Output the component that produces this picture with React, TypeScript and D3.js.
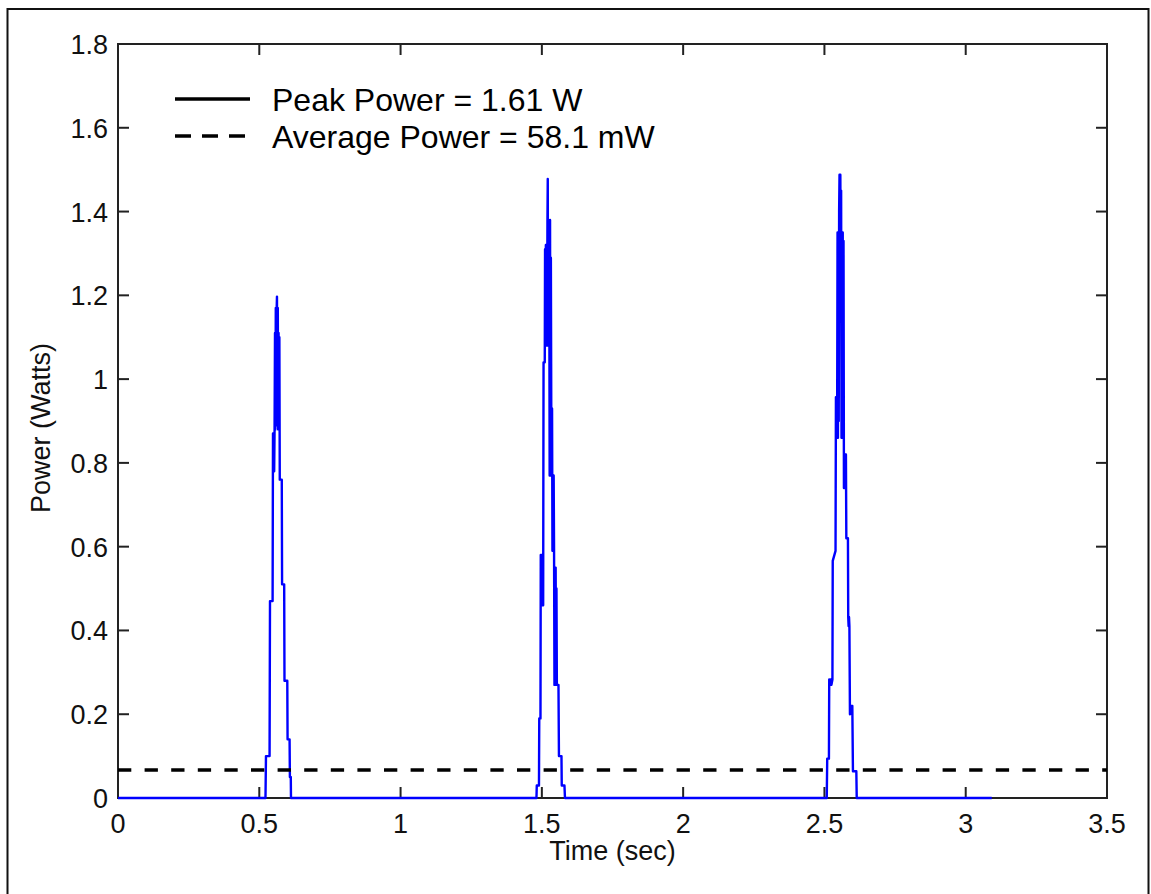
import React from "react";
import * as d3 from "d3";

// ---- data ----
const xTicks = [0, 0.5, 1, 1.5, 2, 2.5, 3, 3.5];
const yTicks = [0, 0.2, 0.4, 0.6, 0.8, 1, 1.2, 1.4, 1.6, 1.8];

const signalStart: [number, number][] = [[0, 0]];

const peak1: [number, number][] = [
  [0.5219, 0], [0.5237, 0.1], [0.5364, 0.1], [0.5379, 0.47], [0.5471, 0.47],
  [0.5485, 0.87], [0.5499, 0.78], [0.5513, 0.87], [0.5527, 0.78], [0.5541, 0.88],
  [0.5556, 1.11], [0.557, 0.88], [0.5584, 1.17], [0.5598, 0.89], [0.5612, 1.16],
  [0.5626, 1.197], [0.5641, 0.89], [0.5655, 1.17], [0.5669, 0.88], [0.5683, 1.11],
  [0.5697, 0.88], [0.5711, 1.1], [0.5725, 0.76], [0.5796, 0.76], [0.5807, 0.51],
  [0.5881, 0.51], [0.5892, 0.28], [0.5991, 0.28], [0.6001, 0.14], [0.6072, 0.14],
  [0.6083, 0.05], [0.6115, 0.05], [0.6122, 0],
];

const peak2: [number, number][] = [
  [1.4809, 0], [1.482, 0.03], [1.4898, 0.03], [1.4908, 0.19], [1.4951, 0.19],
  [1.4961, 0.58], [1.4979, 0.46], [1.4997, 0.58], [1.5014, 0.46], [1.5032, 0.58],
  [1.5046, 0.46], [1.506, 1.04], [1.5103, 1.04], [1.5113, 1.31], [1.5127, 1.08],
  [1.5142, 1.32], [1.5156, 1.08], [1.517, 1.31], [1.5184, 1.08], [1.5198, 1.38],
  [1.5209, 1.478], [1.522, 1.08], [1.5234, 1.38], [1.5248, 1.08], [1.5262, 1.29],
  [1.5276, 0.77], [1.529, 1.38], [1.5304, 0.77], [1.5319, 1.29], [1.5333, 0.93],
  [1.5347, 0.77], [1.5361, 0.93], [1.5375, 0.59], [1.5389, 0.77], [1.5403, 0.59],
  [1.5418, 0.77], [1.5432, 0.59], [1.5446, 0.27], [1.546, 0.55], [1.5474, 0.27],
  [1.5488, 0.55], [1.5503, 0.27], [1.5517, 0.5], [1.5531, 0.27], [1.5588, 0.27],
  [1.5605, 0.1], [1.5694, 0.1], [1.5704, 0.03], [1.58, 0.03], [1.5818, 0],
];

const peak3: [number, number][] = [
  [2.5082, 0], [2.5099, 0.094], [2.5159, 0.094], [2.517, 0.283], [2.5213, 0.27],
  [2.523, 0.283], [2.5248, 0.27], [2.5283, 0.283], [2.5294, 0.566], [2.5393, 0.59],
  [2.5407, 0.957], [2.5421, 0.86], [2.5435, 0.957], [2.5449, 0.86], [2.5464, 1.35],
  [2.5478, 0.86], [2.5492, 1.35], [2.5506, 0.9], [2.552, 1.4], [2.5534, 1.488],
  [2.5549, 1.3], [2.5563, 1.488], [2.5577, 1.25], [2.5591, 1.45], [2.5605, 0.86],
  [2.5619, 1.35], [2.5633, 0.86], [2.5648, 1.35], [2.5662, 0.86], [2.5676, 1.33],
  [2.569, 0.74], [2.5704, 0.82], [2.5718, 0.74], [2.5732, 0.82], [2.5747, 0.74],
  [2.5761, 0.82], [2.5775, 0.62], [2.5832, 0.62], [2.5842, 0.432], [2.5856, 0.41],
  [2.587, 0.432], [2.5884, 0.41], [2.5903, 0.2], [2.5959, 0.22], [2.5973, 0.2],
  [2.5987, 0.22], [2.6009, 0.064], [2.6129, 0.064], [2.6143, 0],
];

const signalEnd: [number, number][] = [[3.092, 0]];

const averageLineLevel = 0.067;
const averageLineSpan = [0, 3.5];

const legendLabels = ["Peak Power = 1.61 W", "Average Power = 58.1 mW"];
const xLabel = "Time (sec)";
const yLabel = "Power (Watts)";

// ---- chart ----
const W = 1151;
const H = 894;
const FONT = "Arial, 'Liberation Sans', Helvetica, sans-serif";

export default function App() {
  const x = d3.scaleLinear().domain([0, 3.5]).range([118, 1107]);
  const y = d3.scaleLinear().domain([0, 1.8]).range([798, 44]);
  const fmt = d3.format("~g");

  const series = [...signalStart, ...peak1, ...peak2, ...peak3, ...signalEnd];
  const line = d3
    .line<[number, number]>()
    .x((d) => x(d[0]))
    .y((d) => y(d[1]));

  const [x0, x1] = x.range();
  const [yb, yt] = y.range();
  const tickLen = 11;
  const axisColor = "#222";

  return (
    <svg
      width={W}
      height={H}
      style={{ position: "absolute", left: 0, top: 0, background: "#fff" }}
      fontFamily={FONT}
    >
      <rect x={0} y={0} width={W} height={H} fill="#fff" />
      {/* outer frame */}
      <rect x={7.5} y={9} width={1141} height={892} fill="none" stroke="#111" strokeWidth={2} />

      {/* axes box */}
      <rect x={x0} y={yt} width={x1 - x0} height={yb - yt} fill="none" stroke={axisColor} strokeWidth={2} />

      {/* x ticks */}
      {xTicks.map((t) => (
        <g key={"xt" + t}>
          <line x1={x(t)} x2={x(t)} y1={yb} y2={yb - tickLen} stroke={axisColor} strokeWidth={2} />
          <line x1={x(t)} x2={x(t)} y1={yt} y2={yt + tickLen} stroke={axisColor} strokeWidth={2} />
          <text x={x(t)} y={833} fontSize={27} textAnchor="middle" fill="#111">
            {fmt(t)}
          </text>
        </g>
      ))}

      {/* y ticks */}
      {yTicks.map((v) => (
        <g key={"yt" + v}>
          <line x1={x0} x2={x0 + tickLen} y1={y(v)} y2={y(v)} stroke={axisColor} strokeWidth={2} />
          <line x1={x1} x2={x1 - tickLen} y1={y(v)} y2={y(v)} stroke={axisColor} strokeWidth={2} />
          <text x={108} y={y(v) + 10} fontSize={27} textAnchor="end" fill="#111">
            {fmt(v)}
          </text>
        </g>
      ))}

      {/* signal */}
      <path
        d={line(series) || ""}
        fill="none"
        stroke="#0000ff"
        strokeWidth={2.4}
        strokeLinejoin="round"
      />

      {/* average power dashed line */}
      <line
        x1={x(averageLineSpan[0])}
        x2={x(averageLineSpan[1])}
        y1={y(averageLineLevel)}
        y2={y(averageLineLevel)}
        stroke="#000"
        strokeWidth={3.5}
        strokeDasharray="13.3 13.3"
      />

      {/* legend */}
      <line x1={175} x2={250} y1={99} y2={99} stroke="#000" strokeWidth={3.5} />
      <line x1={175} x2={246} y1={136} y2={136} stroke="#000" strokeWidth={3.5} strokeDasharray="16 11" />
      <text x={272} y={111} fontSize={32} fill="#000">
        {legendLabels[0]}
      </text>
      <text x={272} y={148} fontSize={32} fill="#000">
        {legendLabels[1]}
      </text>

      {/* axis labels */}
      <text x={(x0 + x1) / 2} y={860} fontSize={27} textAnchor="middle" fill="#111">
        {xLabel}
      </text>
      <text
        transform={`translate(50, ${(yt + yb) / 2 + 7}) rotate(-90)`}
        fontSize={27}
        textAnchor="middle"
        fill="#111"
      >
        {yLabel}
      </text>
    </svg>
  );
}
